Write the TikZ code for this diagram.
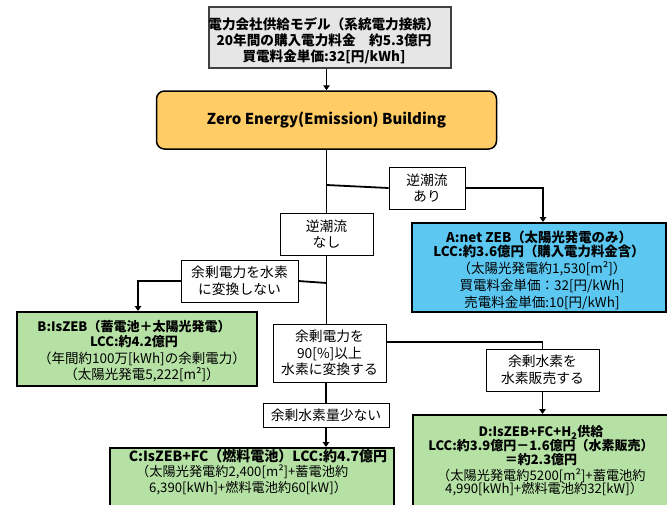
\documentclass[tikz,border=0pt]{standalone}
\usepackage{fontspec}
\setmainfont{Noto Sans CJK JP}
\usetikzlibrary{arrows.meta}
\definecolor{zebfill}{RGB}{255,204,102}
\definecolor{afill}{RGB}{92,200,242}
\definecolor{gfill}{RGB}{181,226,164}
\definecolor{topfill}{RGB}{230,230,230}
\definecolor{topline}{RGB}{64,64,64}
\newcommand{\fsz}[2]{\fontsize{#1pt}{#2pt}\selectfont}
\tikzset{
  box/.style={draw, rectangle, inner sep=0pt, line width=2pt},
  lbl/.style={draw, fill=white, rectangle, inner sep=0pt, line width=0.8pt, align=center, font=\fsz{13.8}{16.5}},
  conn/.style={line width=1.8pt},
  arr/.style={conn, -{Triangle[length=5pt,width=6.5pt]}},
  txt/.style={inner sep=0pt, align=center},
  ltxt/.style={inner sep=0pt, anchor=west, font=\fsz{13.2}{15}},
}
\begin{document}
\begin{tikzpicture}[x=1pt,y=-1pt]
\useasboundingbox (0,0) rectangle (667,504);
\clip (0,0) rectangle (667,504);
% boxes
\node[box, draw=topline, fill=topfill, minimum width=242pt, minimum height=61pt] (top) at (330,37.5) {};
\node[txt, font=\fsz{13.6}{16}\bfseries] (toptxt) at (324,40.5) {電力会社供給モデル（系統電力接続）\\20年間の購入電力料金　約5.3億円\\買電料金単価:32[円/kWh]};
\node[box, fill=zebfill, rounded corners=8pt, line width=1.5pt, minimum width=340pt, minimum height=58pt] (zeb) at (326.5,120) {\fsz{15}{18}\bfseries Zero Energy(Emission) Building};
\node[lbl, minimum width=76pt, minimum height=42pt] (ari) at (427,188) {逆潮流\\あり};
\node[lbl, minimum width=93pt, minimum height=42pt] (nashi) at (326.5,234) {逆潮流\\なし};
\node[lbl, minimum width=117pt, minimum height=42pt] (henkan) at (239.5,281) {余剰電力を水素\\に変換しない};
\node[box, fill=afill, minimum width=254pt, minimum height=89pt] (A) at (539,267.5) {};
\node[txt, font=\fsz{13.4}{13.5}\bfseries] (Ah) at (539,244.5) {A:net ZEB（太陽光発電のみ）\\LCC:約3.6億円（購入電力料金含）};
\node[txt, font=\fsz{13.5}{17}] (Ab) at (542,285.5) {（太陽光発電約1,530[m²]）\\買電料金単価：32[円/kWh]\\売電料金単価:10[円/kWh]};
\node[box, fill=gfill, minimum width=240pt, minimum height=74pt] (B) at (137,349) {};
\node[txt, font=\fsz{13}{15}\bfseries] (Bh) at (134,334.5) {B:IsZEB（蓄電池＋太陽光発電）\\LCC:約4.2億円};
\node[txt, font=\fsz{13.5}{15.5}] (Bb) at (142,367) {（年間約100万[kWh]の余剰電力）\\（太陽光発電5,222[m²]）};
\node[lbl, minimum width=113pt, minimum height=58pt] (p90) at (329.5,353) {余剰電力を\\90[\%]以上\\水素に変換する};
\node[lbl, minimum width=113pt, minimum height=42pt] (hanbai) at (542.5,370) {余剰水素を\\水素販売する};
\node[lbl, minimum width=126pt, minimum height=24pt] (sukunai) at (326,415) {余剰水素量少ない};
\node[box, fill=gfill, minimum width=284pt, minimum height=67pt] (C) at (252,481.5) {};
\node[txt, font=\fsz{14}{15}\bfseries] (Ch) at (258,456) {C:IsZEB+FC（燃料電池）LCC:約4.7億円};
\node[ltxt] (Cb1) at (136,472) {（太陽光発電約2,400[m²]+蓄電池約};
\node[ltxt] (Cb2) at (149,488) {6,390[kWh]+燃料電池約60[kW]）};
\node[box, fill=gfill, minimum width=259pt, minimum height=100pt] (D) at (542.5,465) {};
\node[txt, font=\fsz{13}{14}\bfseries] (Dh) at (541,446) {D:IsZEB+FC+H\textsubscript{2}供給\\LCC:約3.9億円－1.6億円（水素販売）\\＝約2.3億円};
\node[ltxt] (Db1) at (437,476) {（太陽光発電約5200[m²]+蓄電池約};
\node[ltxt] (Db2) at (445,489) {4,990[kWh]+燃料電池約32[kW]）};
% connectors
\coordinate (j1) at (326.5,185);
\coordinate (j2) at (326.5,283);
\draw[arr] (zeb.north |- top.south) -- (zeb.north);
\draw[conn] (zeb.south) -- (nashi.north);
\draw[conn] (j1) -- (ari.west);
\draw[arr] (ari.east) -| ([xshift=4pt]A.north);
\draw[conn] (nashi.south) -- (nashi.south |- p90.north);
\draw[conn] (j2) -- (henkan.east);
\draw[arr] (henkan.west) -| ([xshift=1pt]B.north);
\draw[conn] ([yshift=11pt]p90.east) -| (hanbai.north);
\draw[arr] (hanbai.south) -- (D.north);
\draw[conn] (sukunai.north |- p90.south) -- (sukunai.north);
\draw[arr] (sukunai.south) -- (sukunai.south |- C.north);
\end{tikzpicture}
\end{document}
